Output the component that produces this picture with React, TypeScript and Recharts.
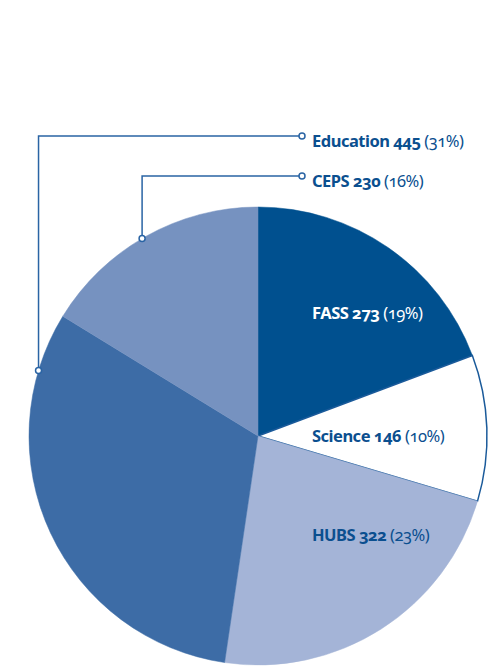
import React from 'react';
import { PieChart, Pie, Cell } from 'recharts';

const categories = ['FASS', 'Science', 'HUBS', 'Education', 'CEPS'];
const counts = [273, 146, 322, 445, 230];
const colors = ['#00508f', '#ffffff', '#a4b4d7', '#3d6ca6', '#7692c0'];

const data = categories.map((name, i) => ({ name, value: counts[i] }));

const TEXT = '#0b4f8f';
const LINE = '#2a64a4';
const FONT = "'Noto Sans', 'Open Sans', sans-serif";
const RAD = Math.PI / 180;

// label layout (inside labels: baseline offset from center; callouts: line level & slice fraction)
const insideBaseline: Record<string, number> = { FASS: -117, Science: 6, HUBS: 105 };
const callout: Record<string, { lineY: number; t: number }> = {
  Education: { lineY: 136, t: 0.868 },
  CEPS: { lineY: 176, t: 0.48 },
};

const renderLabel = (props: any) => {
  const { cx, cy, outerRadius, startAngle, endAngle, percent, name, value } = props;
  const textX = cx + 54;
  const pct = `(${Math.round(percent * 100)}%)`;
  const textColor = name === 'FASS' ? '#ffffff' : TEXT;
  const txt = (y: number) => (
    <text x={textX} y={y} fontFamily={FONT} fontSize={16.5} fill={textColor} textAnchor="start"
      style={{ fontVariantNumeric: 'oldstyle-nums', letterSpacing: -0.5 }}>
      <tspan fontWeight={700}>{`${name} ${value}`}</tspan>
      <tspan fontWeight={400}>{` ${pct}`}</tspan>
    </text>
  );
  if (callout[name]) {
    const { lineY, t } = callout[name];
    const ang = startAngle + (endAngle - startAngle) * t;
    const ax = cx + outerRadius * Math.cos(-ang * RAD);
    const ay = cy + outerRadius * Math.sin(-ang * RAD);
    const ex = textX - 10;
    return (
      <g>
        <polyline points={`${ax},${ay} ${ax},${lineY} ${ex},${lineY}`} fill="none" stroke={LINE} strokeWidth={1.5} />
        <circle cx={ax} cy={ay} r={3} fill="#fff" stroke={LINE} strokeWidth={1.5} />
        <circle cx={ex} cy={lineY} r={3} fill="#fff" stroke={LINE} strokeWidth={1.5} />
        {txt(lineY + 11)}
      </g>
    );
  }
  return txt(cy + insideBaseline[name]);
};

export default function App() {
  return (
    <div style={{ position: 'absolute', left: 0, top: 0, width: 496, height: 666, background: '#fff' }}>
      <PieChart width={496} height={666} margin={{ top: 0, right: 0, bottom: 0, left: 0 }}>
        <Pie
          data={data}
          dataKey="value"
          nameKey="name"
          cx={258}
          cy={436}
          outerRadius={229}
          startAngle={90}
          endAngle={-270}
          isAnimationActive={false}
          label={renderLabel}
          labelLine={false}
        >
          {data.map((d, i) => (
            <Cell
              key={d.name}
              fill={colors[i]}
              stroke={d.name === 'Science' ? '#1a5a9a' : colors[i]}
              strokeWidth={d.name === 'Science' ? 1.5 : 0.5}
            />
          ))}
        </Pie>
      </PieChart>
    </div>
  );
}
